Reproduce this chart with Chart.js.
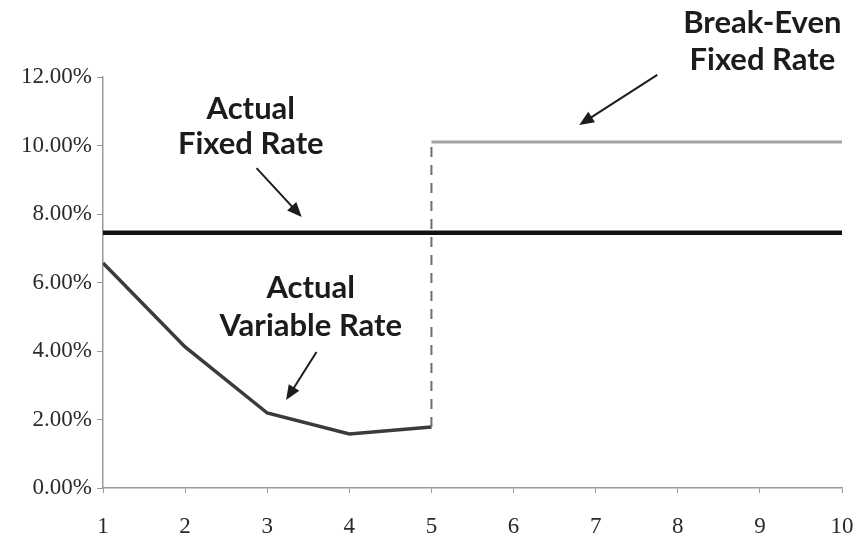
<!DOCTYPE html>
<html>
<head>
<meta charset="utf-8">
<script src="https://cdn.jsdelivr.net/npm/chart.js@4.4.1/dist/chart.umd.min.js"></script>
<style>
  html, body { margin: 0; padding: 0; background: #fff; }
  #chart { display: block; }
</style>
</head>
<body>
<canvas id="chart" width="856" height="539"></canvas>
<script>
// years on the x axis
const years = [1, 2, 3, 4, 5, 6, 7, 8, 9, 10];
// rates in percent
const variableRate = [6.57, 4.12, 2.19, 1.58, 1.78, null, null, null, null, null];
const fixedRate = [7.45, 7.45, 7.45, 7.45, 7.45, 7.45, 7.45, 7.45, 7.45, 7.45];
const breakEvenRate = [null, null, null, null, 10.1, 10.1, 10.1, 10.1, 10.1, 10.1];
// y tick values
const yTicks = [0, 2, 4, 6, 8, 10, 12];

// callout labels, placed in data units
const callouts = [
  { lines: ["Actual", "Fixed Rate"], x: 2.80, y: [11.07, 10.04], arrow: [2.87, 9.34, 3.42, 7.91] },
  { lines: ["Actual", "Variable Rate"], x: 3.53, y: [5.84, 4.73], arrow: [3.60, 3.97, 3.23, 2.57] },
  { lines: ["Break-Even", "Fixed Rate"], x: 9.03, y: [13.58, 12.50], arrow: [7.75, 12.06, 6.80, 10.60] }
];

const toPoints = arr => years.map((yr, i) => ({ x: yr, y: arr[i] })).filter(p => p.y !== null);

// the vertical jump at year 5, from the variable rate up to break-even
const jumpIdx = breakEvenRate.findIndex(v => v !== null);
const jump = [
  { x: years[jumpIdx], y: variableRate[jumpIdx] },
  { x: years[jumpIdx], y: breakEvenRate[jumpIdx] }
];

const calloutPlugin = {
  id: "callouts",
  afterDraw(chart) {
    const { ctx, scales } = chart;
    const sx = scales.x, sy = scales.y;
    ctx.save();
    ctx.fillStyle = "#1c1c1c";
    ctx.strokeStyle = "#1c1c1c";
    ctx.font = "bold 31px Lato, 'Open Sans', sans-serif";
    ctx.textAlign = "center";
    ctx.textBaseline = "middle";
    callouts.forEach(c => {
      c.lines.forEach((t, i) => {
        ctx.fillText(t, sx.getPixelForValue(c.x), sy.getPixelForValue(c.y[i]));
      });
      const x1 = sx.getPixelForValue(c.arrow[0]), y1 = sy.getPixelForValue(c.arrow[1]);
      const x2 = sx.getPixelForValue(c.arrow[2]), y2 = sy.getPixelForValue(c.arrow[3]);
      const a = Math.atan2(y2 - y1, x2 - x1);
      const head = 16;
      ctx.lineWidth = 2;
      ctx.beginPath();
      ctx.moveTo(x1, y1);
      ctx.lineTo(x2 - Math.cos(a) * head * 0.8, y2 - Math.sin(a) * head * 0.8);
      ctx.stroke();
      ctx.beginPath();
      ctx.moveTo(x2, y2);
      ctx.lineTo(x2 - head * Math.cos(a - 0.4), y2 - head * Math.sin(a - 0.4));
      ctx.lineTo(x2 - head * Math.cos(a + 0.4), y2 - head * Math.sin(a + 0.4));
      ctx.closePath();
      ctx.fill();
    });
    ctx.restore();
  }
};

const tickFont = { family: "'Liberation Serif', 'DejaVu Serif', serif", size: 23 };

new Chart(document.getElementById("chart"), {
  type: "scatter",
  data: {
    datasets: [
      { data: jump, showLine: true, borderColor: "#6e6e6e", borderWidth: 2, borderDash: [10, 8], pointRadius: 0 },
      { data: toPoints(breakEvenRate), showLine: true, borderColor: "#a3a3a3", borderWidth: 3, pointRadius: 0 },
      { data: toPoints(variableRate), showLine: true, borderColor: "#3b3b3b", borderWidth: 3.5, pointRadius: 0 },
      { data: toPoints(fixedRate), showLine: true, borderColor: "#111", borderWidth: 4.5, pointRadius: 0 }
    ]
  },
  options: {
    responsive: false,
    animation: false,
    layout: { padding: { top: 77, right: 0, left: 0, bottom: 0 } },
    plugins: { legend: { display: false }, tooltip: { enabled: false } },
    scales: {
      x: {
        type: "linear",
        min: 1,
        max: 10,
        afterFit: s => { s.height = 51; s.paddingLeft = 0; s.paddingRight = 14; },
        ticks: { stepSize: 1, font: tickFont, color: "#2a2a2a", padding: 20 },
        grid: { drawOnChartArea: false, drawTicks: true, tickLength: 5, color: "#9a9a9a" },
        border: { display: true, color: "#9a9a9a", width: 1.5 }
      },
      y: {
        min: 0,
        max: 12,
        afterFit: s => { s.width = 103; },
        afterBuildTicks: s => { s.ticks = yTicks.map(v => ({ value: v })); },
        ticks: { font: tickFont, color: "#2a2a2a", padding: 5, callback: v => v.toFixed(2) + "%" },
        grid: { drawOnChartArea: false, drawTicks: true, tickLength: 6, color: "#9a9a9a" },
        border: { display: true, color: "#9a9a9a", width: 1.5 }
      }
    }
  },
  plugins: [calloutPlugin]
});
</script>
</body>
</html>
